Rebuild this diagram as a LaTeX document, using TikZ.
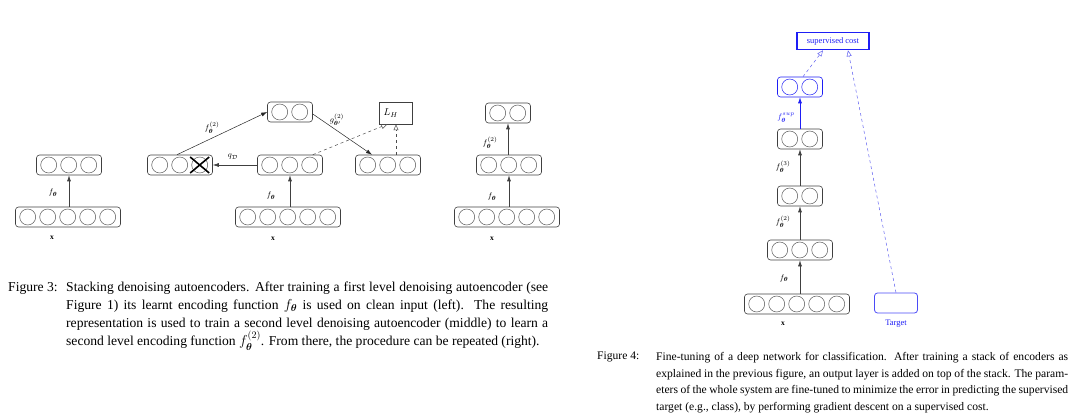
\documentclass[tikz,border=0pt]{standalone}
\usepackage{amsmath}
\usepackage{fontspec}
\setmainfont{Liberation Serif}
\usetikzlibrary{arrows.meta, calc}
\definecolor{supblue}{RGB}{30,30,245}
\definecolor{linkblue}{RGB}{95,95,240}
\tikzset{
  label_font/.style = {font=\fontsize{8.5}{9}\selectfont},
  small_font/.style = {font=\fontsize{7.5}{8}\selectfont},
  cap3_font/.style = {font=\fontsize{13.6}{18}\selectfont},
  cap4_font/.style = {font=\fontsize{11.6}{16.8}\selectfont}
}
\tikzset{
  layer_box/.style = {draw=black!75, line width=0.6pt, rounded corners=3pt, minimum height=20, inner sep=0},
  unit/.style = {draw=black!65, line width=0.5pt},
  enc_arrow/.style = {draw=black!75, line width=0.6pt, -{Latex[length=6pt, width=4pt]}},
  cost_arrow/.style = {draw=black!70, line width=0.5pt, dashed, -{Triangle[open, length=6pt, width=5pt]}},
  fn_label/.style = {label_font, inner sep=0},
  input_label/.style = {small_font, inner sep=0},
  cross_mark/.style = {line width=1.6pt, black},
  caption_text/.style = {align=justify, inner sep=0, anchor=north west}
}
% one layer of units: [options] name, centre, number of units
\newcommand{\drawlayer}[4][]{
  \node[layer_box, minimum width={20*#4+5}, #1] (#2) at (#3) {};
  \foreach \u in {1,...,#4}
    \draw[unit, #1] ($(#2.west)+(20*\u-7.5,0)$) circle (8);
}

\begin{document}
\begin{tikzpicture}[x=1pt, y=-1pt]
  \useasboundingbox (0,0) rectangle (1080,417);

  % Left: first level encoder on clean input
  \drawlayer{l_in}{68,217}{5}
  \drawlayer{l_h1}{69,165}{3}
  \draw[enc_arrow] (l_in.north -| l_h1) -- (l_h1.south);
  \node[fn_label] at (53,193) (l_f1) {$f_{\boldsymbol\theta}$};
  \node[input_label] at (52,238) (l_x) {$\mathbf{x}$};

  % Middle: second level denoising autoencoder
  \drawlayer{m_in}{288,217}{5}
  \drawlayer{m_h1}{290,165}{3}
  \drawlayer{m_cor}{180,165}{3}
  \drawlayer{m_h2}{290,112}{2}
  \drawlayer{m_rec}{388,165}{3}
  \node[draw=black!75, line width=0.5pt, minimum width=33, minimum height=22, text width=25, align=left, inner sep=3] at (396,113) (m_cost) {$L_H$};
  \draw[cross_mark] ($(m_cor.west)+(43,-8)$) -- ($(m_cor.west)+(62,8)$)
                    ($(m_cor.west)+(43,8)$) -- ($(m_cor.west)+(62,-8)$);

  \draw[enc_arrow] (m_in.north -| m_h1) -- (m_h1.south);
  \draw[enc_arrow] (m_h1.west) -- (m_cor.east);
  \draw[enc_arrow, line width=0.5pt, draw=black!85] ([xshift=-3pt]m_cor.north) -- (m_h2.west);
  \draw[enc_arrow, line width=0.5pt, draw=black!85] ([yshift=-2pt]m_h2.east) -- ([xshift=-16pt]m_rec.north);
  \draw[cost_arrow] ([xshift=-10pt]m_h1.north east) -- ([xshift=8pt]m_cost.south west);
  \draw[cost_arrow] (m_cost.south |- m_rec.north) -- (m_cost.south);

  \node[fn_label] at (271,196) (m_f1) {$f_{\boldsymbol\theta}$};
  \node[fn_label] at (233,157) (m_q) {$q_{\mathcal{D}}$};
  \node[fn_label] at (212,128) (m_f2) {$f^{(2)}_{\boldsymbol\theta}$};
  \node[fn_label] at (337,120) (m_g2) {$g^{(2)}_{\boldsymbol\theta'}$};
  \node[input_label] at (273,239) (m_x) {$\mathbf{x}$};

  % Right: the procedure repeated
  \drawlayer{r_in}{507,217}{5}
  \drawlayer{r_h1}{509,165}{3}
  \drawlayer{r_h2}{508,113}{2}
  \draw[enc_arrow] (r_in.north -| r_h1) -- (r_h1.south);
  \draw[enc_arrow] (r_h1.north -| r_h2) -- (r_h2.south);
  \node[fn_label] at (492,197) (r_f1) {$f_{\boldsymbol\theta}$};
  \node[fn_label] at (490,143) (r_f2) {$f^{(2)}_{\boldsymbol\theta}$};
  \node[input_label] at (492,239) (r_x) {$\mathbf{x}$};

  % Fine-tuning stack
  \drawlayer{t_in}{797,304}{5}
  \drawlayer{t_h1}{800,250}{3}
  \drawlayer{t_h2}{800,196}{2}
  \drawlayer{t_h3}{800,139}{2}
  \drawlayer[draw=supblue]{t_out}{800,87}{2}
  \node[draw=supblue, line width=1.6pt, minimum width=72, minimum height=17, inner sep=0, text=supblue, label_font] at (833,41) (t_cost) {supervised cost};
  \node[draw=supblue!80, line width=0.8pt, rounded corners=3pt, minimum width=43, minimum height=20, inner sep=0] at (896,303) (t_target) {};

  \draw[enc_arrow] (t_in.north -| t_h1) -- (t_h1.south);
  \draw[enc_arrow] (t_h1.north) -- (t_h2.south);
  \draw[enc_arrow] (t_h2.north) -- (t_h3.south);
  \draw[enc_arrow, draw=supblue, -{Latex[length=6pt, width=4pt, fill=supblue]}] (t_h3.north) -- (t_out.south);
  \draw[cost_arrow, draw=linkblue] ([xshift=3pt]t_out.north) -- ([xshift=-10pt]t_cost.south);
  \draw[cost_arrow, draw=linkblue] (t_target.north) -- ([xshift=15pt]t_cost.south);

  \node[fn_label] at (784,278) (t_f1) {$f_{\boldsymbol\theta}$};
  \node[fn_label] at (783,222) (t_f2) {$f^{(2)}_{\boldsymbol\theta}$};
  \node[fn_label] at (783,167) (t_f3) {$f^{(3)}_{\boldsymbol\theta}$};
  \node[fn_label, text=supblue] at (786,118) (t_fs) {$f^{sup}_{\boldsymbol\theta}$};
  \node[input_label] at (783,324) (t_x) {$\mathbf{x}$};
  \node[label_font, text=supblue, inner sep=0] at (896,324) (t_target_lbl) {Target};

  % Captions
  \node[cap3_font, inner sep=0, anchor=north west] at (8,282) (cap3_lbl) {Figure 3:};
  \node[cap3_font, caption_text, text width=482] at (66,282) (cap3) {Stacking denoising autoencoders. After training a first level denoising autoencoder (see\linebreak
    Figure 1) its learnt encoding function $f_{\boldsymbol\theta}$ is used on clean input (left). The resulting\linebreak
    representation is used to train a second level denoising autoencoder (middle) to learn a\linebreak
    second level encoding function $f^{(2)}_{\boldsymbol\theta}$. From there, the procedure can be repeated (right).};
  \node[cap4_font, inner sep=0, anchor=north west] at (597,352) (cap4_lbl) {Figure 4:};
  \node[cap4_font, caption_text, text width=412] at (656,352) (cap4) {Fine-tuning of a deep network for classification. After training a stack of encoders as\linebreak
    explained in the previous figure, an output layer is added on top of the stack. The param-\linebreak
    eters of the whole system are fine-tuned to minimize the error in predicting the supervised\linebreak
    target (e.g., class), by performing gradient descent on a supervised cost.};
\end{tikzpicture}
\end{document}
